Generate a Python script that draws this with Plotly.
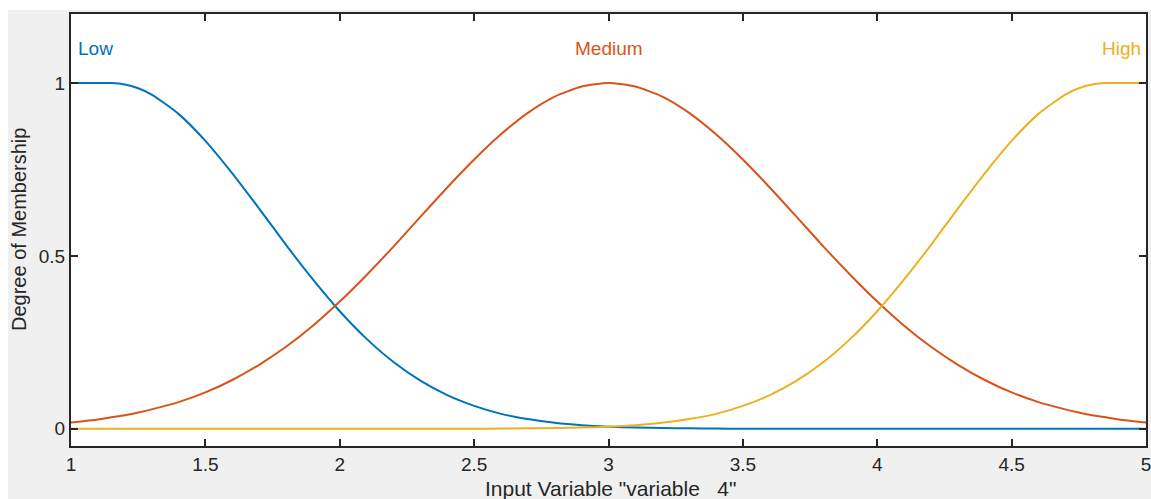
import plotly.graph_objects as go

# ---- data ----
x_vals = [1.0, 1.1, 1.15, 1.2, 1.25, 1.3, 1.4, 1.5, 1.6, 1.7, 1.8, 1.9,
          2.0, 2.1, 2.2, 2.3, 2.4, 2.5, 2.6, 2.7, 2.8, 2.9,
          3.0, 3.1, 3.2, 3.3, 3.4, 3.5, 3.6, 3.7, 3.8, 3.9,
          4.0, 4.1, 4.2, 4.3, 4.4, 4.5, 4.6, 4.7, 4.75, 4.8, 4.85, 4.9, 5.0]

low = [1.0, 1.0, 1.0, 0.996, 0.985, 0.967, 0.911, 0.833, 0.739, 0.637, 0.532, 0.432,
       0.340, 0.260, 0.193, 0.139, 0.097, 0.066, 0.043, 0.028, 0.017, 0.010,
       0.006, 0.0034, 0.0019, 0.001, 0.0005, 0.0, 0.0, 0.0, 0.0, 0.0,
       0.0, 0.0, 0.0, 0.0, 0.0, 0.0, 0.0, 0.0, 0.0, 0.0, 0.0, 0.0, 0.0]

medium = [0.018, 0.027, 0.033, 0.039, 0.047, 0.056, 0.077, 0.105, 0.141, 0.185, 0.237, 0.298,
          0.368, 0.445, 0.527, 0.613, 0.698, 0.779, 0.852, 0.914, 0.961, 0.990,
          1.0, 0.990, 0.961, 0.914, 0.852, 0.779, 0.698, 0.613, 0.527, 0.445,
          0.368, 0.298, 0.237, 0.185, 0.141, 0.105, 0.077, 0.056, 0.047, 0.039, 0.033, 0.027, 0.018]

high = [0.0, 0.0, 0.0, 0.0, 0.0, 0.0, 0.0, 0.0, 0.0, 0.0, 0.0, 0.0,
        0.0, 0.0, 0.0, 0.0, 0.0, 0.0, 0.0005, 0.001, 0.0019, 0.0034,
        0.006, 0.010, 0.017, 0.028, 0.043, 0.066, 0.097, 0.139, 0.193, 0.260,
        0.340, 0.432, 0.532, 0.637, 0.739, 0.833, 0.911, 0.967, 0.985, 0.996, 1.0, 1.0, 1.0]

series_names = ["Low", "Medium", "High"]
series_colors = ["#0072BD", "#D95319", "#EDB120"]
label_x = [1.0, 3.0, 5.0]
label_y = [1.1, 1.1, 1.1]
x_ticks = [1, 1.5, 2, 2.5, 3, 3.5, 4, 4.5, 5]
x_ticktext = ["1", "1.5", "2", "2.5", "3", "3.5", "4", "4.5", "5"]
y_ticks = [0, 0.5, 1]
y_ticktext = ["0", "0.5", "1"]
x_title = 'Input Variable "variable\u00a0\u00a0\u00a04"'
y_title = "Degree of Membership"

FONT = "Liberation Sans, Arial, Helvetica, sans-serif"
TXT = "#262626"

W, H = 1151, 499
ML, MR, MT, MB = 71, 5, 14, 53
PW, PH = W - ML - MR, H - MT - MB

fig = go.Figure()
for ys, name, col in zip([low, medium, high], series_names, series_colors):
    fig.add_trace(go.Scatter(x=x_vals, y=ys, mode="lines", name=name,
                             line=dict(color=col, width=2, shape="spline", smoothing=0.6),
                             showlegend=False, hoverinfo="skip"))

anchors = ["left", "center", "right"]
shifts = [5, 0, -3]
for name, col, lx, ly, a, s in zip(series_names, series_colors, label_x, label_y, anchors, shifts):
    fig.add_annotation(x=lx, y=ly, text=name, showarrow=False, xanchor=a, yanchor="middle",
                       xshift=s, font=dict(family=FONT, size=19, color=col))

# axis titles
fig.add_annotation(xref="paper", yref="paper", x=0, y=0.5, xshift=-52, text=y_title,
                   textangle=-90, showarrow=False, xanchor="center", yanchor="middle",
                   font=dict(family=FONT, size=20, color=TXT))
fig.add_annotation(xref="paper", yref="paper", x=0.5, y=0, yshift=-42, xshift=2, text=x_title,
                   showarrow=False, xanchor="center", yanchor="middle",
                   font=dict(family=FONT, size=21, color=TXT))

# white strips along top and left edge of the screenshot
fig.add_shape(type="rect", xref="paper", yref="paper", layer="above",
              x0=(0 - ML) / PW, x1=(8 - ML) / PW, y0=(H - MB - H) / PH, y1=(H - MB) / PH,
              fillcolor="white", line=dict(width=0))
fig.add_shape(type="rect", xref="paper", yref="paper", layer="above",
              x0=(0 - ML) / PW, x1=(W - ML) / PW, y0=(H - MB - 10) / PH, y1=(H - MB) / PH,
              fillcolor="white", line=dict(width=0))

fig.update_layout(
    width=W, height=H,
    margin=dict(l=ML, r=MR, t=MT, b=MB, pad=0, autoexpand=False),
    paper_bgcolor="#f0f0f0", plot_bgcolor="white",
    font=dict(family=FONT, size=19, color=TXT),
)
fig.update_xaxes(range=[1, 5], tickvals=x_ticks, ticktext=x_ticktext, automargin=False,
                 ticklabeloverflow="allow",
                 showgrid=False, zeroline=False, showline=True, mirror="ticks",
                 linecolor=TXT, linewidth=2, ticks="inside", ticklen=7, tickwidth=1.5,
                 tickcolor=TXT, tickfont=dict(family=FONT, size=19, color=TXT))
fig.update_yaxes(range=[-0.05, 1.2], tickvals=y_ticks, ticktext=y_ticktext, automargin=False,
                 ticklabeloverflow="allow",
                 showgrid=False, zeroline=False, showline=True, mirror="ticks",
                 linecolor=TXT, linewidth=2, ticks="inside", ticklen=7, tickwidth=1.5,
                 tickcolor=TXT, tickfont=dict(family=FONT, size=19, color=TXT))

fig.write_html("out.html", config={"displayModeBar": False},
               post_script="document.body.style.margin='0';document.body.style.overflow='hidden';")
